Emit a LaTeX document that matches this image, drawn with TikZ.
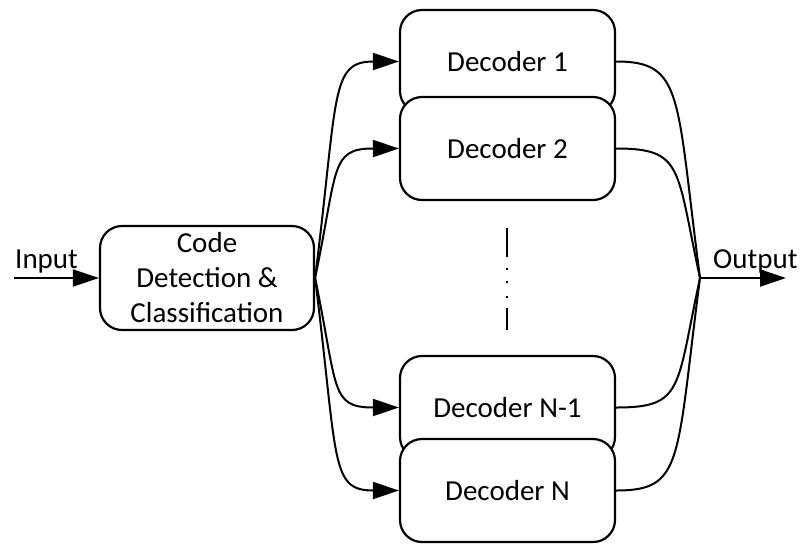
\documentclass[tikz,border=0pt]{standalone}
\usepackage{fontspec}
\setmainfont{Carlito}
\usetikzlibrary{arrows.meta}
\begin{document}
\begin{tikzpicture}[x=1pt,y=-1pt,
  blk/.style={draw, line width=2.2pt, rounded corners=22pt, fill=white,
    minimum width=215pt, minimum height=103pt, inner sep=0pt, align=center,
    font=\fontsize{29}{35}\selectfont},
  link/.style={line width=2pt},
  tip/.style={-{Triangle[length=26pt,width=17pt]}},
  lbl/.style={font=\fontsize{29}{35}\selectfont, inner sep=0pt, anchor=base west}]
\useasboundingbox (0,0) rectangle (802,544);

% processing blocks
\node[blk, minimum width=214pt, minimum height=104pt] (code) at (207,278)
  {Code\\Detection \&\\Classification};
\node[blk] (d1)  at (507.5,61.5)  {Decoder 1};
\node[blk] (d2)  at (507.5,148.5) {Decoder 2};
\node[blk] (dn1) at (507.5,407.5) {Decoder N-1};
\node[blk] (dn)  at (507.5,490.5) {Decoder N};

% input / output ends
\coordinate (in) at (14,278);
\coordinate (out) at (700,278);
\coordinate (outend) at (786,278);
\node[lbl] (inlbl) at (15,268) {Input};
\node[lbl] (outlbl) at (713,268) {Output};

\draw[link,tip] (in) -- (code.west);
\draw[link,tip] (out) -- (outend);

% fan-out to the decoders
\draw[link,tip] (code.east) .. controls (338,95)  and (330,61.5)  .. (d1.west);
\draw[link,tip] (code.east) .. controls (338,168) and (330,148.5) .. (d2.west);
\draw[link,tip] (code.east) .. controls (338,389) and (330,407.5) .. (dn1.west);
\draw[link,tip] (code.east) .. controls (338,462) and (330,490.5) .. (dn.west);

% fan-in to the output
\draw[link] (d1.east)  .. controls (684,61.5)  and (676,95)  .. (out);
\draw[link] (d2.east)  .. controls (684,148.5) and (676,168) .. (out);
\draw[link] (dn1.east) .. controls (684,407.5) and (676,389) .. (out);
\draw[link] (dn.east)  .. controls (684,490.5) and (676,462) .. (out);

% ellipsis between decoder 2 and decoder N-1
\draw[line width=2pt, dash pattern=on 29pt off 11pt on 2pt off 11pt on 2pt off 13pt on 2pt off 10pt on 22pt]
  (507,228) -- (507,330);
\end{tikzpicture}
\end{document}
